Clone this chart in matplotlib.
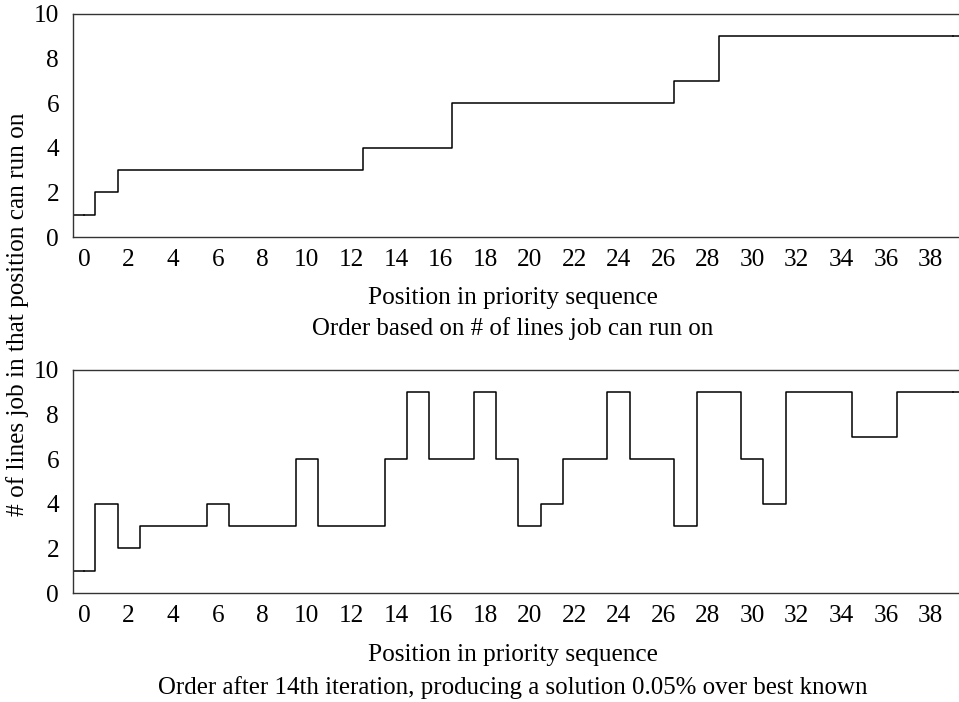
import matplotlib
matplotlib.use("Agg")
import matplotlib.pyplot as plt
import numpy as np

positions = list(range(40))
initial_lines = [1, 2] + [3]*11 + [4]*4 + [6]*10 + [7]*2 + [9]*11
iter14_lines = [1, 4, 2, 3, 3, 3, 4, 3, 3, 3, 6, 3, 3, 3, 6, 9, 6, 6, 9, 6,
                3, 4, 6, 6, 9, 6, 6, 3, 9, 9, 6, 4, 9, 9, 9, 7, 7, 9, 9, 9]
xticks = list(range(0, 40, 2))
yticks = [0, 2, 4, 6, 8, 10]
xlabel = "Position in priority sequence"
ylabel = "# of lines job in that position can run on"
captions = ["Order based on # of lines job can run on",
            "Order after 14th iteration, producing a solution 0.05% over best known"]

plt.rcParams['font.family'] = ['Liberation Serif', 'DejaVu Serif']
fs = 18.2

W, H = 959, 702
fig = plt.figure(figsize=(W/100, H/100), dpi=100)

unit = 22.27
left = 73
width = 40*unit
axes_specs = [(14, 237), (370, 593)]
series = [initial_lines, iter14_lines]
label_y = [298, 655]
cap_y = [329, 688]

for (top, bot), data, ly, cy, cap in zip(axes_specs, series, label_y, cap_y, captions):
    ax = fig.add_axes([left/W, 1-bot/H, width/W, (bot-top)/H])
    ax.plot(positions, data, drawstyle='steps-mid', color='black', lw=1.1)
    ax.plot([-0.5, 0], [data[0], data[0]], color='black', lw=1.1)
    ax.plot([39, 39.5], [data[-1], data[-1]], color='black', lw=1.1)
    ax.set_xlim(-0.5, 39.5)
    ax.set_ylim(0, 10)
    ax.set_xticks(xticks)
    ax.set_yticks(yticks)
    ax.tick_params(axis='x', length=0, labelsize=fs, pad=9)
    ax.tick_params(axis='y', length=0, labelsize=fs, pad=10)
    for s in ax.spines.values():
        s.set_linewidth(1.0)
        s.set_color('#333333')
    fig.text(513/W, 1-ly/H, xlabel, ha='center', va='center', fontsize=fs)
    fig.text(513/W, 1-cy/H, cap, ha='center', va='center', fontsize=fs*0.985)

fig.text(18/W, 1-314/H, ylabel, rotation=90, ha='center', va='center', fontsize=fs)

fig.savefig("out.png", dpi=100)
